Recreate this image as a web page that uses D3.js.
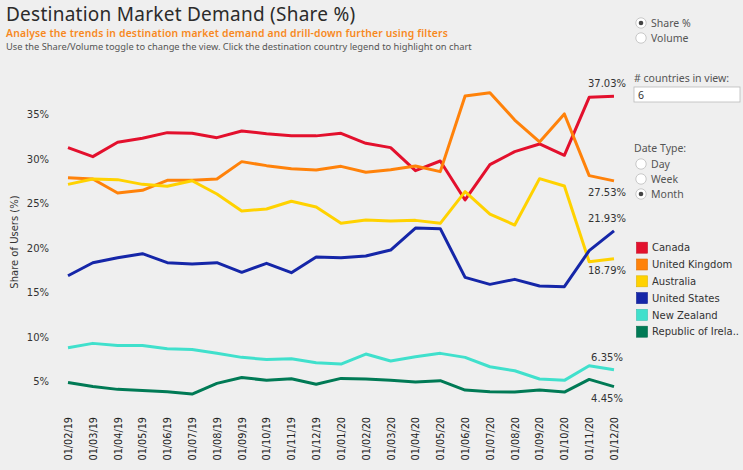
<!DOCTYPE html>
<html><head><meta charset="utf-8">
<script src="https://cdn.jsdelivr.net/npm/d3@7"></script>
<style>
html,body{margin:0;padding:0;background:#efefef;}
svg{display:block;}
</style></head>
<body>
<svg id="chart" width="743" height="470"></svg>
<script>
const dates = ["01/02/19","01/03/19","01/04/19","01/05/19","01/06/19","01/07/19","01/08/19","01/09/19","01/10/19","01/11/19","01/12/19","01/01/20","01/02/20","01/03/20","01/04/20","01/05/20","01/06/20","01/07/20","01/08/20","01/09/20","01/10/20","01/11/20","01/12/20"];
const canada    = [31.26,30.25,31.86,32.31,32.94,32.87,32.38,33.13,32.83,32.6,32.58,32.87,31.75,31.26,28.68,29.76,25.39,29.35,30.81,31.67,30.4,36.9,37.03];
const uk        = [27.89,27.74,26.17,26.47,27.59,27.59,27.74,29.69,29.24,28.9,28.74,29.16,28.49,28.79,29.2,28.57,37.06,37.43,34.36,31.9,35.04,28.12,27.53];
const australia = [27.14,27.74,27.67,27.14,26.92,27.55,26.06,24.15,24.38,25.24,24.6,22.77,23.14,23.03,23.1,22.77,26.32,23.81,22.58,27.78,26.96,18.46,18.79];
const us        = [16.89,18.35,18.91,19.36,18.35,18.2,18.35,17.27,18.28,17.23,18.99,18.91,19.1,19.77,22.24,22.17,16.71,15.92,16.48,15.73,15.66,19.7,21.93];
const nz        = [8.81,9.3,9.07,9.07,8.7,8.62,8.18,7.73,7.5,7.58,7.13,6.98,8.1,7.32,7.8,8.18,7.73,6.68,6.23,5.3,5.15,6.79,6.35];
const ireland   = [4.92,4.47,4.14,4.02,3.87,3.61,4.81,5.48,5.15,5.33,4.72,5.37,5.3,5.15,4.96,5.11,4.06,3.87,3.84,4.06,3.84,5.26,4.45];
const seriesNames = ["Canada","United Kingdom","Australia","United States","New Zealand","Republic of Irela.."];
const seriesColors = ["#e3102d","#ff820a","#ffd200","#1526a8","#40e0cc","#007a55"];
const yTicks = [5,10,15,20,25,30,35];
const labelPos = ["above","below","below","above","above","below"];

const seriesData = [canada, uk, australia, us, nz, ireland];
const svg = d3.select("#chart");
const font = "'DejaVu Sans', sans-serif";
const titleFont = "'Noto Sans', sans-serif";

// Titles
svg.append("text").attr("x",6).attr("y",21).attr("font-family",titleFont)
  .attr("font-size",19).attr("letter-spacing",0.25).attr("fill","#2b2b2b").text("Destination Market Demand (Share %)");
svg.append("text").attr("x",6).attr("y",37).attr("font-family",titleFont)
  .attr("font-size",10.4).attr("font-weight",600).attr("fill","#f7891e").attr("letter-spacing",0.15)
  .text("Analyse the trends in destination market demand and drill-down further using filters");
svg.append("text").attr("x",6).attr("y",49.5).attr("font-family",titleFont)
  .attr("font-size",9.3).attr("fill","#555")
  .text("Use the Share/Volume toggle to change the view. Click the destination country legend to highlight on chart");

const x = d3.scalePoint().domain(dates).range([68, 614]);
const y = d3.scaleLinear().domain([5,35]).range([381.7,114.3]);

// Y axis
const yAxis = svg.append("g").attr("transform","translate(49,0)")
  .call(d3.axisLeft(y).tickValues(yTicks).tickSize(0).tickPadding(0).tickFormat(d=>d+"%"));
yAxis.select(".domain").remove();
yAxis.selectAll("text").attr("font-family",font).attr("font-size",10).attr("fill","#333");

svg.append("text").attr("transform","translate(17.5,242) rotate(-90)")
  .attr("text-anchor","middle").attr("font-family",font).attr("font-size",10).attr("fill","#333")
  .text("Share of Users (%)");

// X axis
const xAxis = svg.append("g").attr("transform","translate(0,414)")
  .call(d3.axisBottom(x).tickSize(0).tickPadding(0));
xAxis.select(".domain").remove();
xAxis.selectAll("text").attr("font-family",font).attr("font-size",9.7).attr("fill","#222")
  .attr("text-anchor","end").attr("dy","0.35em")
  .attr("transform","rotate(-90)").attr("x",-3).attr("y",0);

// Lines
const line = d3.line().x((d,i)=>x(dates[i])).y(d=>y(d));
seriesData.forEach((s,k)=>{
  svg.append("path").datum(s).attr("d",line).attr("fill","none")
    .attr("stroke",seriesColors[k]).attr("stroke-width",3).attr("stroke-linejoin","round");
});

// End labels
seriesData.forEach((s,k)=>{
  const v = s[s.length-1];
  const py = y(v);
  svg.append("text").attr("x",x(dates[dates.length-1])-7)
    .attr("y", labelPos[k]==="above" ? py-9 : py+15)
    .attr("text-anchor","middle").attr("font-family",font).attr("font-size",10).attr("fill","#333")
    .text(v.toFixed(2)+"%");
});

// Right panel controls
function radio(cx, cy, label, checked){
  svg.append("circle").attr("cx",cx).attr("cy",cy).attr("r",5.2).attr("fill","#fff").attr("stroke","#bbb").attr("stroke-width",0.8);
  if(checked) svg.append("circle").attr("cx",cx).attr("cy",cy).attr("r",2.3).attr("fill","#444");
  svg.append("text").attr("x",cx+10).attr("y",cy+3.6).attr("font-family",titleFont).attr("font-size",10.5).attr("fill","#555").text(label);
}
radio(641,23,"Share %",true);
radio(641,38,"Volume",false);
svg.append("text").attr("x",634).attr("y",82).attr("font-family",titleFont).attr("font-size",10.5).attr("fill","#555").text("# countries in view:");
svg.append("rect").attr("x",634).attr("y",87).attr("width",106).attr("height",15).attr("fill","#fff").attr("stroke","#bbb").attr("stroke-width",0.8);
svg.append("text").attr("x",638).attr("y",98.5).attr("font-family",titleFont).attr("font-size",10.5).attr("fill","#333").text("6");
svg.append("text").attr("x",634).attr("y",152).attr("font-family",titleFont).attr("font-size",10.5).attr("fill","#555").text("Date Type:");
radio(641,164,"Day",false);
radio(641,179,"Week",false);
radio(641,194,"Month",true);

// Legend
const lg = svg.append("g");
seriesNames.forEach((n,k)=>{
  const cy = 247.7 + k*16.8;
  lg.append("rect").attr("x",636.5).attr("y",cy-5.5).attr("width",11).attr("height",11)
    .attr("fill",seriesColors[k]).attr("stroke",d3.color(seriesColors[k]).darker(0.4)).attr("stroke-width",0.6);
  lg.append("text").attr("x",652).attr("y",cy+3.6).attr("font-family",font).attr("font-size",10).attr("fill","#333").text(n);
});
</script>
</body></html>
